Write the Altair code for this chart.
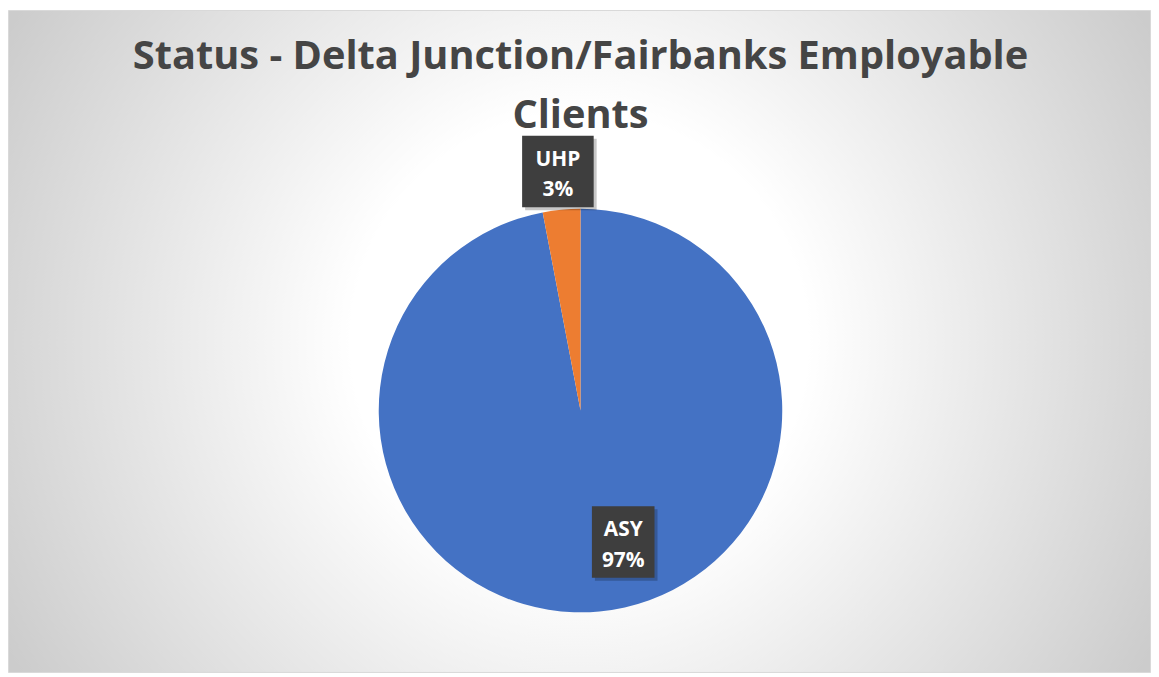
import json
import altair as alt
import pandas as pd

# ---- data ----
CATEGORIES = ["ASY", "UHP"]
VALUES = [97, 3]
COLORS = ["#4472C4", "#ED7D31"]
TITLE_LINES = ["Status - Delta Junction/Fairbanks Employable", "Clients"]

# ---- layout / style constants ----
W, H = 1150, 667
CX, CY, R = 576, 403, 203
FONT = "Open Sans"
INSIDE_SHIFT = 0.22  # radians, best-fit nudge for inside labels
BOX_HALF_W = {"ASY": 31.5, "UHP": 36}
BOX_HALF_H = 36

df = pd.DataFrame({"cat": CATEGORIES, "value": VALUES, "order": list(range(len(CATEGORIES)))})

bg = alt.Chart(pd.DataFrame({"a": [0]})).mark_rect(
    fill=alt.Gradient(
        gradient="radial",
        x1=0.5, y1=0.5, r1=0,
        x2=0.5, y2=0.5, r2=0.57,
        stops=[
            alt.GradientStop(offset=0, color="#ffffff"),
            alt.GradientStop(offset=0.35, color="#ffffff"),
            alt.GradientStop(offset=1, color="#cccccc"),
        ],
    ),
    stroke="#d9d9d9",
    strokeWidth=1,
).encode(x=alt.value(0.5), x2=alt.value(W - 0.5), y=alt.value(0.5), y2=alt.value(H - 0.5))

pie = alt.Chart(df).mark_arc(radius=R).encode(
    theta=alt.Theta("value:Q", stack=True),
    order=alt.Order("order:Q"),
    color=alt.Color("cat:N", scale=alt.Scale(domain=CATEGORIES, range=COLORS), legend=None),
    x=alt.value(CX),
    y=alt.value(CY),
)

lab = (
    alt.Chart(df)
    .transform_joinaggregate(total="sum(value)")
    .transform_window(cum="sum(value)", sort=[alt.SortField("order")], frame=[None, 0])
    .transform_calculate(
        frac="datum.value / datum.total",
        mid="(datum.cum - datum.value / 2) / datum.total * 2 * PI",
        hw=f"{json.dumps(BOX_HALF_W)}[datum.cat]",
    )
    .transform_calculate(
        lr=f"datum.frac > 0.1 ? {R * 0.685} : {R * 1.19}",
        la=f"datum.frac > 0.1 ? datum.mid - {INSIDE_SHIFT} : datum.mid",
        pct="format(datum.frac, '.0%')",
    )
    .transform_calculate(
        lx=f"{CX} + datum.lr * sin(datum.la)",
        ly=f"{CY} - datum.lr * cos(datum.la)",
    )
    .transform_calculate(
        bx1="datum.lx - datum.hw",
        bx2="datum.lx + datum.hw",
        by1=f"datum.ly - {BOX_HALF_H}",
        by2=f"datum.ly + {BOX_HALF_H}",
        sx1="datum.lx - datum.hw + 3",
        sx2="datum.lx + datum.hw + 3",
        sy1=f"datum.ly - {BOX_HALF_H} + 3",
        sy2=f"datum.ly + {BOX_HALF_H} + 3",
    )
)

shadow = lab.mark_rect(color="#000000", opacity=0.22).encode(
    x=alt.X("sx1:Q", scale=None, axis=None), x2="sx2:Q",
    y=alt.Y("sy1:Q", scale=None, axis=None), y2="sy2:Q",
)
box = lab.mark_rect(color="#3e3e3e", opacity=1).encode(
    x=alt.X("bx1:Q", scale=None, axis=None), x2="bx2:Q",
    y=alt.Y("by1:Q", scale=None, axis=None), y2="by2:Q",
)
t1 = lab.mark_text(font=FONT, fontSize=21, fontWeight="bold", color="white", baseline="middle", dy=-12).encode(
    x=alt.X("lx:Q", scale=None, axis=None), y=alt.Y("ly:Q", scale=None, axis=None), text="cat:N"
)
t2 = lab.mark_text(font=FONT, fontSize=21, fontWeight="bold", color="white", baseline="middle", dy=19).encode(
    x=alt.X("lx:Q", scale=None, axis=None), y=alt.Y("ly:Q", scale=None, axis=None), text="pct:N"
)

title_df = pd.DataFrame({"line": TITLE_LINES, "row": list(range(len(TITLE_LINES)))})
title = alt.Chart(title_df).mark_text(
    font=FONT, fontSize=40, fontWeight="bold", color="#454545", baseline="alphabetic", align="center"
).transform_calculate(ty="59 + datum.row * 60").encode(
    x=alt.value(CX),
    y=alt.Y("ty:Q", scale=None, axis=None),
    text="line:N",
)

chart = alt.layer(bg, pie, shadow, box, t1, t2, title).properties(
    width=W, height=H, padding=0, autosize=alt.AutoSizeParams(type="none")
).configure_view(stroke=None)

chart.save("out.html", embed_options={"renderer": "svg", "actions": False})
